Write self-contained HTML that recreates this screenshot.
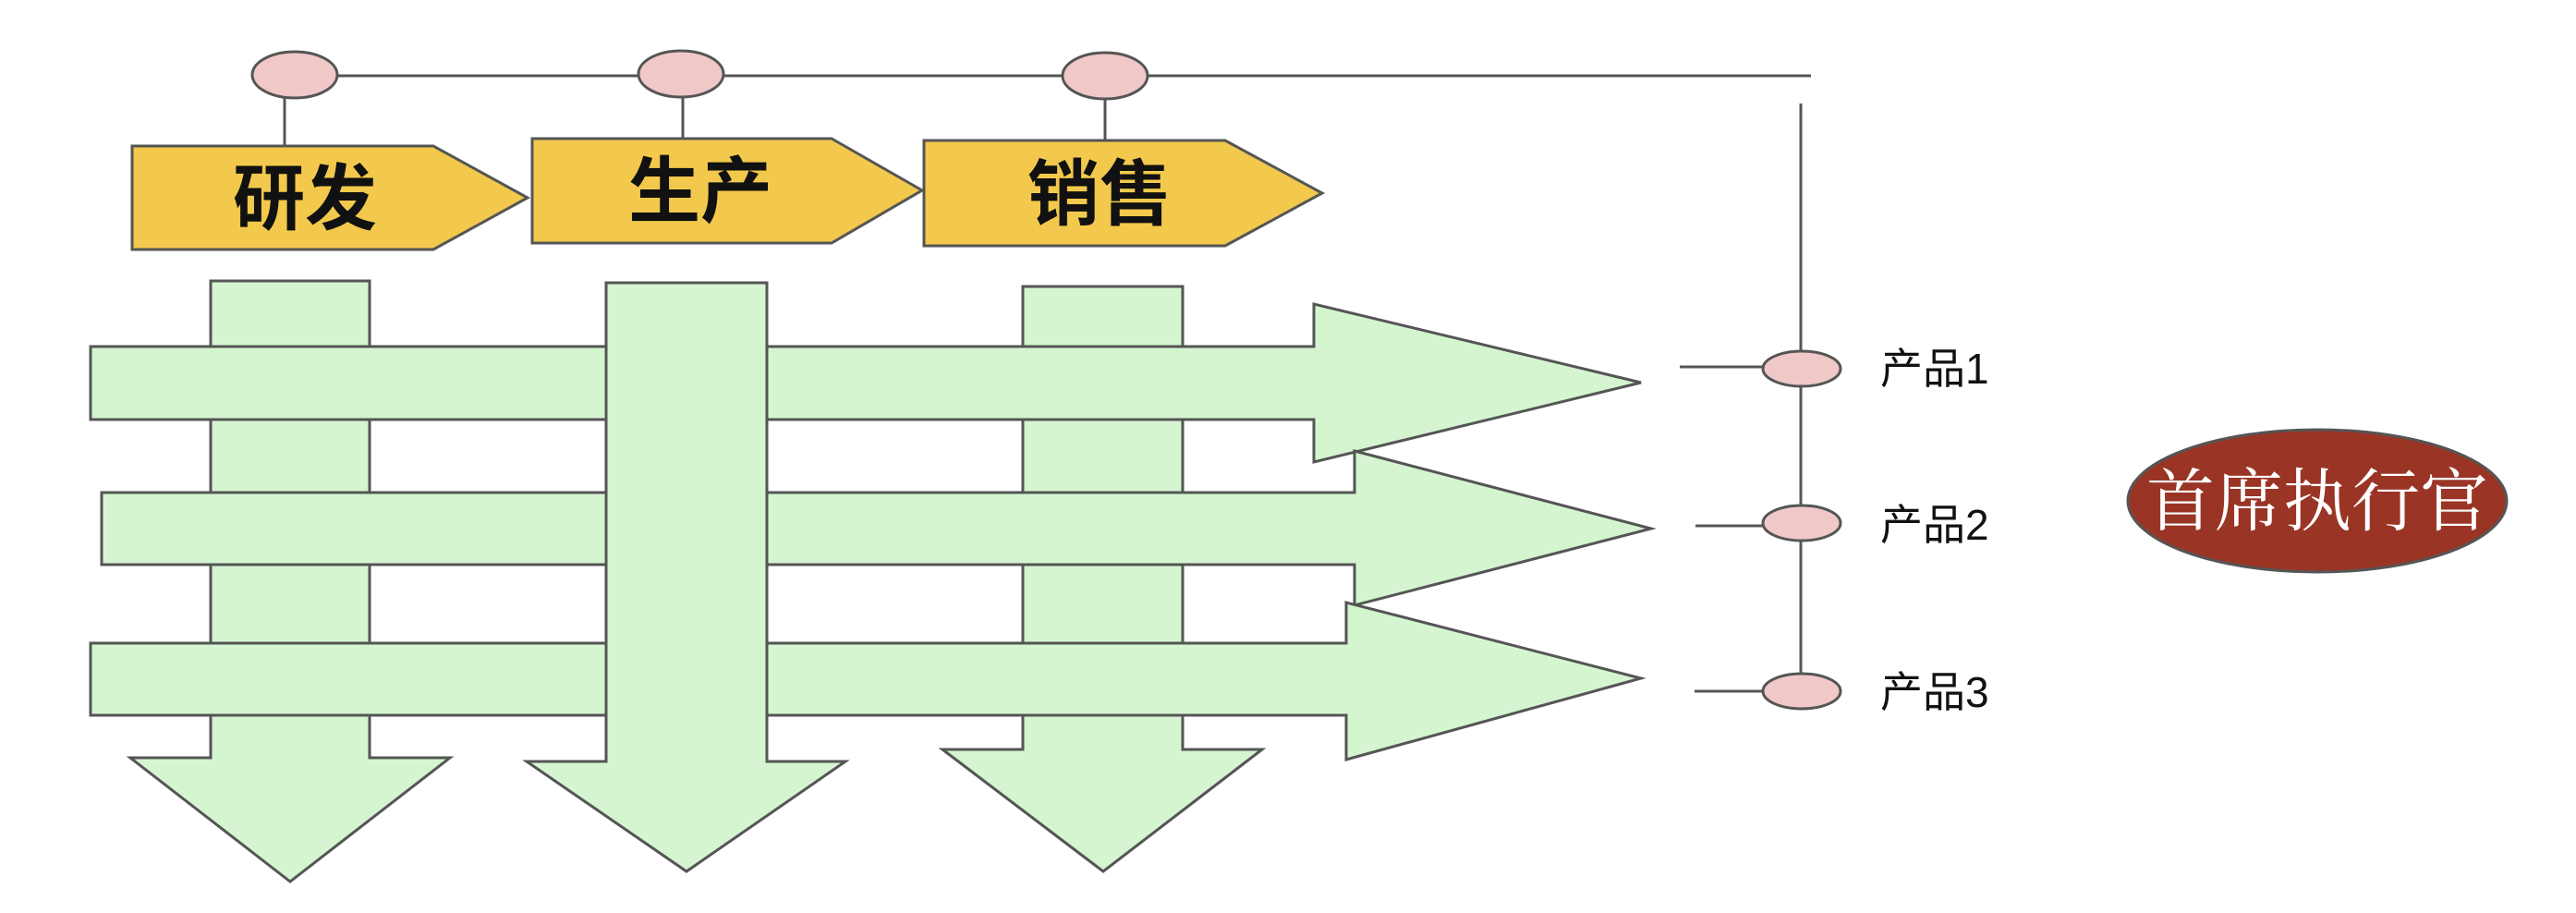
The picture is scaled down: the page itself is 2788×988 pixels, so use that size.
<!DOCTYPE html>
<html><head><meta charset="utf-8"><style>
html,body{margin:0;padding:0;background:#fff}
svg{display:block}
</style></head><body>
<svg width="2788" height="988" viewBox="0 0 2788 988" xmlns="http://www.w3.org/2000/svg">
<g stroke="#555" stroke-width="3" fill="none">
<line x1="319" y1="82" x2="1960" y2="82"/>
<line x1="308" y1="100" x2="308" y2="158"/>
<line x1="739" y1="100" x2="739" y2="150"/>
<line x1="1196" y1="100" x2="1196" y2="152"/>
<line x1="1949" y1="112" x2="1949" y2="750"/>
<line x1="1818" y1="397" x2="1920" y2="397"/>
<line x1="1835" y1="569" x2="1920" y2="569"/>
<line x1="1834" y1="748" x2="1920" y2="748"/>
</g>
<g fill="#f0c8c8" stroke="#555" stroke-width="3">
<ellipse cx="319" cy="81" rx="46" ry="25"/>
<ellipse cx="737" cy="80" rx="46" ry="25"/>
<ellipse cx="1196" cy="82" rx="46" ry="25"/>
<ellipse cx="1950" cy="399" rx="42" ry="19"/>
<ellipse cx="1950" cy="566" rx="42" ry="19"/>
<ellipse cx="1950" cy="748" rx="42" ry="19"/>
</g>
<g fill="#f2c94c" stroke="#555" stroke-width="3">
<polygon points="143,158 469,158 571,214 469,270 143,270"/>
<polygon points="576,150 900,150 998,206 900,263 576,263"/>
<polygon points="1000,152 1326,152 1431,209 1326,266 1000,266"/>
</g>
<g font-family="'Liberation Sans','Noto Sans CJK SC',sans-serif" font-weight="bold" font-size="78" fill="#111" text-anchor="middle">
<text x="330" y="242">研发</text>
<text x="758" y="234">生产</text>
<text x="1190" y="237">销售</text>
</g>
<g fill="#d4f5d0" stroke="#555" stroke-width="3">
<polygon points="228,304 400,304 400,820 487,820 314,954 141,820 228,820"/>
<polygon points="1107,310 1280,310 1280,811 1366,811 1194,943 1020,811 1107,811"/>
<polygon points="98,375 1422,375 1422,329 1776,414 1422,500 1422,454 98,454"/>
<polygon points="110,533 1466,533 1466,488 1787,572 1466,655 1466,611 110,611"/>
<polygon points="98,696 1457,696 1457,652 1776,734 1457,822 1457,774 98,774"/>
<polygon points="656,306 830,306 830,824 915,824 743,943 570,824 656,824"/>
</g>
<g font-family="'Liberation Sans','Noto Sans CJK SC',sans-serif" font-size="46" fill="#111">
<text x="2035" y="415">产品1</text>
<text x="2035" y="584">产品2</text>
<text x="2035" y="765">产品3</text>
</g>
<ellipse cx="2508" cy="542" rx="205" ry="77" fill="#9a3526" stroke="#555" stroke-width="3"/>
<text x="2508" y="568" text-anchor="middle" font-family="'Liberation Serif','Noto Serif CJK SC',serif" font-size="74" fill="#fff">首席执行官</text>
</svg>
</body></html>
